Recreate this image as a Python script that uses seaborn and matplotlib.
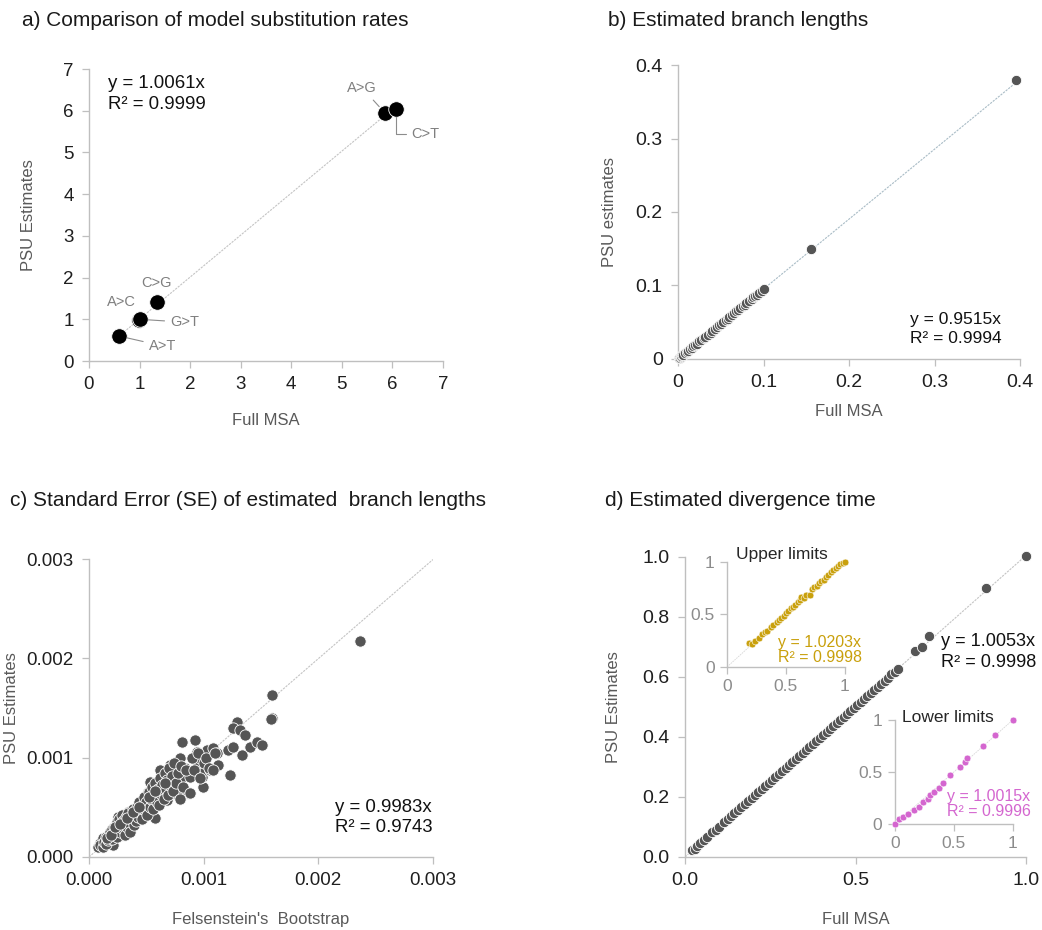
import numpy as np
import pandas as pd
import matplotlib
matplotlib.use("Agg")
import matplotlib.pyplot as plt
import seaborn as sns

# ---------------- data ----------------
# a) substitution rates
subs_labels = ["A>C", "A>G", "A>T", "C>G", "C>T", "G>T"]
subs_full = [0.98, 5.85, 0.59, 1.35, 6.07, 1.01]
subs_psu = [0.99, 5.95, 0.60, 1.42, 6.04, 1.00]

# b) branch lengths
bl_full = [0.001, 0.002, 0.003, 0.004, 0.005, 0.006, 0.008, 0.010, 0.012, 0.014,
           0.016, 0.018, 0.020, 0.022, 0.025, 0.027, 0.030, 0.032, 0.035, 0.038,
           0.040, 0.043, 0.046, 0.048, 0.050, 0.053, 0.056, 0.058, 0.060, 0.063,
           0.066, 0.068, 0.070, 0.073, 0.076, 0.078, 0.080, 0.083, 0.086, 0.088,
           0.090, 0.092, 0.095, 0.098, 0.100, 0.155, 0.395]
bl_psu = [0.001, 0.002, 0.003, 0.004, 0.005, 0.006, 0.008, 0.009, 0.011, 0.013,
          0.015, 0.017, 0.019, 0.021, 0.024, 0.026, 0.028, 0.030, 0.033, 0.036,
          0.038, 0.041, 0.044, 0.046, 0.048, 0.050, 0.053, 0.055, 0.057, 0.060,
          0.063, 0.065, 0.067, 0.069, 0.072, 0.074, 0.076, 0.079, 0.082, 0.084,
          0.086, 0.087, 0.090, 0.093, 0.095, 0.150, 0.379]

# c) standard errors (values in units of 1e-3)
se_boot_milli = [0.081, 0.096, 0.125, 0.183, 0.212, 0.256, 0.270, 0.285, 0.328, 0.343,
                 0.357, 0.430, 0.445, 0.503, 0.532, 0.517, 0.575, 0.561, 0.532, 0.619,
                 0.634, 0.677, 0.692, 0.706, 0.735, 0.793, 0.808, 0.793, 0.808, 0.837,
                 0.866, 0.881, 0.924, 0.939, 0.954, 0.968, 0.997, 0.983, 1.026, 1.012,
                 1.055, 1.084, 1.113, 1.128, 1.230, 1.215, 1.259, 1.288, 1.259, 1.317,
                 1.360, 1.331, 1.404, 1.462, 1.506, 1.593, 1.593, 1.584, 2.363,
                 0.10, 0.12, 0.13, 0.15, 0.15, 0.17, 0.18, 0.20, 0.20, 0.22,
                 0.22, 0.24, 0.24, 0.25, 0.26, 0.27, 0.28, 0.29, 0.30, 0.30,
                 0.31, 0.32, 0.33, 0.34, 0.35, 0.36, 0.37, 0.38, 0.39, 0.40,
                 0.41, 0.42, 0.43, 0.44, 0.45, 0.46, 0.47, 0.48, 0.49, 0.50,
                 0.51, 0.52, 0.53, 0.54, 0.55, 0.56, 0.57, 0.58, 0.59, 0.60,
                 0.61, 0.62, 0.63, 0.64, 0.65, 0.66, 0.67, 0.68, 0.69, 0.70,
                 0.71, 0.72, 0.73, 0.74, 0.76, 0.78, 0.79, 0.80, 0.82, 0.85,
                 0.88, 0.90, 0.92, 0.95, 0.97, 1.00, 1.02, 1.05, 1.08, 1.10,
                 0.16, 0.19, 0.23, 0.27, 0.33, 0.38, 0.44, 0.52, 0.58, 0.66]
se_psu_milli = [0.104, 0.138, 0.188, 0.222, 0.121, 0.406, 0.322, 0.222, 0.372, 0.456,
                0.289, 0.473, 0.524, 0.456, 0.540, 0.658, 0.389, 0.641, 0.758, 0.876,
                0.675, 0.574, 0.758, 0.926, 0.641, 0.624, 0.809, 0.993, 1.161, 0.893,
                0.641, 0.809, 1.178, 1.060, 0.926, 0.993, 0.708, 0.809, 1.077, 0.876,
                0.876, 1.094, 1.044, 0.926, 0.826, 1.077, 1.111, 1.363, 1.295, 1.279,
                1.228, 1.027, 1.111, 1.161, 1.128, 1.396, 1.631, 1.392, 2.178,
                0.12, 0.10, 0.15, 0.13, 0.20, 0.17, 0.25, 0.18, 0.28, 0.24,
                0.30, 0.20, 0.35, 0.28, 0.38, 0.25, 0.32, 0.42, 0.28, 0.36,
                0.22, 0.40, 0.30, 0.44, 0.34, 0.25, 0.38, 0.48, 0.32, 0.42,
                0.36, 0.50, 0.40, 0.55, 0.44, 0.38, 0.52, 0.60, 0.47, 0.55,
                0.42, 0.65, 0.50, 0.58, 0.70, 0.48, 0.62, 0.75, 0.55, 0.68,
                0.52, 0.80, 0.63, 0.72, 0.58, 0.85, 0.68, 0.78, 0.62, 0.90,
                0.72, 0.82, 0.66, 0.95, 0.75, 0.85, 0.58, 0.92, 0.70, 0.88,
                0.64, 1.00, 0.88, 1.05, 0.80, 0.95, 1.00, 0.90, 0.88, 1.05,
                0.19, 0.22, 0.30, 0.33, 0.39, 0.45, 0.50, 0.60, 0.66, 0.75]

# d) divergence times
dt_full = [0.020, 0.028, 0.035, 0.045, 0.055, 0.065, 0.080, 0.090, 0.100, 0.115,
           0.125, 0.135, 0.145, 0.155, 0.165, 0.175, 0.185, 0.195, 0.205, 0.215,
           0.225, 0.235, 0.245, 0.255, 0.265, 0.275, 0.285, 0.295, 0.305, 0.315,
           0.325, 0.335, 0.345, 0.355, 0.365, 0.375, 0.385, 0.395, 0.405, 0.415,
           0.425, 0.435, 0.445, 0.455, 0.465, 0.475, 0.485, 0.495, 0.505, 0.515,
           0.525, 0.535, 0.545, 0.555, 0.565, 0.575, 0.585, 0.595, 0.605, 0.615,
           0.625, 0.673, 0.694, 0.716, 0.882, 0.999]
dt_psu = [0.022, 0.028, 0.037, 0.046, 0.055, 0.066, 0.082, 0.090, 0.101, 0.117,
          0.125, 0.136, 0.147, 0.155, 0.166, 0.177, 0.186, 0.196, 0.207, 0.216,
          0.226, 0.237, 0.246, 0.256, 0.267, 0.276, 0.287, 0.296, 0.307, 0.316,
          0.327, 0.336, 0.347, 0.357, 0.366, 0.377, 0.386, 0.398, 0.407, 0.416,
          0.428, 0.437, 0.447, 0.458, 0.467, 0.477, 0.488, 0.497, 0.508, 0.518,
          0.527, 0.538, 0.548, 0.557, 0.568, 0.578, 0.588, 0.598, 0.609, 0.618,
          0.628, 0.687, 0.699, 0.738, 0.898, 1.002]

up_full = [0.19, 0.21, 0.24, 0.27, 0.30, 0.32, 0.34, 0.37, 0.39, 0.42, 0.44, 0.46,
           0.48, 0.50, 0.52, 0.54, 0.56, 0.58, 0.60, 0.62, 0.63, 0.65, 0.67, 0.70,
           0.72, 0.74, 0.76, 0.78, 0.80, 0.82, 0.84, 0.86, 0.88, 0.90, 0.92, 0.94,
           0.96, 0.98, 1.00]
up_psu = [0.23, 0.22, 0.25, 0.28, 0.31, 0.33, 0.34, 0.38, 0.40, 0.43, 0.45, 0.47,
          0.49, 0.51, 0.53, 0.56, 0.57, 0.59, 0.62, 0.64, 0.67, 0.66, 0.69, 0.69,
          0.74, 0.76, 0.77, 0.80, 0.82, 0.83, 0.86, 0.88, 0.90, 0.92, 0.94, 0.96,
          0.98, 0.99, 1.00]

low_full = [0.00, 0.03, 0.07, 0.11, 0.16, 0.20, 0.24, 0.28, 0.30, 0.33, 0.37, 0.41,
            0.47, 0.55, 0.59, 0.61, 0.75, 0.85, 1.00]
low_psu = [0.00, 0.045, 0.07, 0.10, 0.135, 0.165, 0.21, 0.245, 0.28, 0.31, 0.35, 0.39,
           0.47, 0.545, 0.60, 0.63, 0.75, 0.855, 1.00]

# trend-line slopes and R^2 as reported
slopes = {"a": 1.0061, "b": 0.9515, "c": 0.9983, "d": 1.0053, "up": 1.0203, "low": 1.0015}
r2 = {"a": "0.9999", "b": "0.9994", "c": "0.9743", "d": "0.9998", "up": "0.9998", "low": "0.9996"}

titles = ["a) Comparison of model substitution rates",
          "b) Estimated branch lengths",
          "c) Standard Error (SE) of estimated  branch lengths",
          "d) Estimated divergence time"]

# ---------------- style ----------------
sns.set_theme(style="ticks")
plt.rcParams['font.family'] = ['Liberation Sans', 'DejaVu Sans']

GREY_SPINE = "#bfbfbf"
PT_COLOR = "#555555"
GOLD = "#c9a00c"
MAGENTA = "#d466cf"

fig = plt.figure(figsize=(10.42, 9.3), dpi=100)
fig.patch.set_facecolor("white")


def style(ax, labelsize=13, labelcolor="#1f1f1f"):
    for s in ["top", "right"]:
        ax.spines[s].set_visible(False)
    for s in ["left", "bottom"]:
        ax.spines[s].set_color(GREY_SPINE)
        ax.spines[s].set_linewidth(1.0)
    ax.tick_params(length=5, width=0.9, color=GREY_SPINE, labelsize=labelsize,
                   labelcolor=labelcolor, pad=6)
    ax.set_facecolor("none")


def trend(ax, xmax, slope, color="#c4c4c4", xmin=0.0, lw=0.8):
    xs = np.array([xmin, xmax])
    sns.lineplot(x=xs, y=slope * xs, ax=ax, color=color, lw=lw,
                 linestyle=(0, (2, 1)), zorder=1)


def labels(ax, xl, yl, xoff, yoff):
    ax.set_xlabel(xl, fontsize=12, color="#595959")
    ax.set_ylabel(yl, fontsize=12, color="#595959")
    ax.xaxis.set_label_coords(0.5, xoff)
    ax.yaxis.set_label_coords(yoff, 0.5)
    ax.xaxis.label.set_va("center")
    ax.yaxis.label.set_va("center")


# ---------------- a ----------------
ax = fig.add_axes([0.0854, 0.6118, 0.3397, 0.3140])
trend(ax, max(subs_full), slopes["a"], xmin=min(subs_full))
sns.scatterplot(x=subs_full, y=subs_psu, ax=ax, s=125, color="black",
                edgecolor="white", linewidth=0.6, zorder=3, clip_on=False)
ax.set_xlim(0, 7)
ax.set_ylim(0, 7)
ax.set_xticks(range(0, 8))
ax.set_yticks(range(0, 8))
style(ax, labelsize=13.5)
labels(ax, "Full MSA", "PSU Estimates", -0.202, -0.172)
ax.text(0.054, 0.978, f"y = {slopes['a']:.4f}x\nR² = {r2['a']}", transform=ax.transAxes,
        ha="left", va="top", fontsize=13.4, color="#111111", linespacing=1.3)

lab_pos = {"A>C": (0.65, 1.41), "A>G": (5.4, 6.55), "A>T": (1.46, 0.36),
           "C>G": (1.34, 1.87), "C>T": (6.66, 5.44), "G>T": (1.9, 0.93)}
leader = {"A>G": "arc3", "A>T": "arc3", "G>T": "arc3",
          "C>T": "angle,angleA=180,angleB=90,rad=0"}
for lab, xv, yv in zip(subs_labels, subs_full, subs_psu):
    kw = {}
    if lab in leader:
        kw["arrowprops"] = dict(arrowstyle="-", color="#8c8c8c", lw=0.8,
                                connectionstyle=leader[lab], shrinkA=2, shrinkB=6)
    ax.annotate(lab, xy=(xv, yv), xytext=lab_pos[lab], ha="center", va="center",
                fontsize=10.5, color="#7f7f7f", zorder=4, **kw)

# ---------------- b ----------------
ax = fig.add_axes([0.6507, 0.6140, 0.3282, 0.3161])
trend(ax, max(bl_full), slopes["b"], color="#a9bcc6")
sns.scatterplot(x=bl_full, y=bl_psu, ax=ax, s=55, color=PT_COLOR,
                edgecolor="white", linewidth=0.6, zorder=3, clip_on=False)
ax.set_xlim(0, 0.4)
ax.set_ylim(0, 0.4)
ax.set_xticks([0, 0.1, 0.2, 0.3, 0.4])
ax.set_yticks([0, 0.1, 0.2, 0.3, 0.4])
ax.set_xticklabels(["0", "0.1", "0.2", "0.3", "0.4"])
ax.set_yticklabels(["0", "0.1", "0.2", "0.3", "0.4"])
style(ax, labelsize=14)
labels(ax, "Full MSA", "PSU estimates", -0.180, -0.199)
ax.text(0.678, 0.160, f"y = {slopes['b']:.4f}x\nR² = {r2['b']}", transform=ax.transAxes,
        ha="left", va="top", fontsize=12.5, color="#111111", linespacing=1.35)

# ---------------- c ----------------
ax = fig.add_axes([0.0854, 0.0785, 0.3301, 0.3204])
se_boot = np.array(se_boot_milli) * 1e-3
se_psu = np.array(se_psu_milli) * 1e-3
trend(ax, 0.003, slopes["c"])
sns.scatterplot(x=se_boot, y=se_psu, ax=ax, s=66, color=PT_COLOR,
                edgecolor="white", linewidth=0.6, zorder=3, clip_on=False)
ax.set_xlim(0, 0.003)
ax.set_ylim(0, 0.003)
ticks_c = [0, 0.001, 0.002, 0.003]
ax.set_xticks(ticks_c)
ax.set_yticks(ticks_c)
ax.set_xticklabels([f"{t:.3f}" for t in ticks_c])
ax.set_yticklabels([f"{t:.3f}" for t in ticks_c])
style(ax, labelsize=13.5)
labels(ax, "Felsenstein's  Bootstrap", "PSU Estimates", -0.211, -0.224)
ax.text(0.715, 0.196, f"y = {slopes['c']:.4f}x\nR² = {r2['c']}", transform=ax.transAxes,
        ha="left", va="top", fontsize=13.4, color="#111111", linespacing=1.3)

# ---------------- d ----------------
ax = fig.add_axes([0.6574, 0.0785, 0.3273, 0.3226])
trend(ax, 1.0, slopes["d"])
sns.scatterplot(x=dt_full, y=dt_psu, ax=ax, s=55, color=PT_COLOR,
                edgecolor="white", linewidth=0.6, zorder=3, clip_on=False)
ax.set_xlim(0, 1.0)
ax.set_ylim(0, 1.0)
ax.set_xticks([0, 0.5, 1.0])
ax.set_yticks([0, 0.2, 0.4, 0.6, 0.8, 1.0])
ax.set_xticklabels(["0.0", "0.5", "1.0"])
ax.set_yticklabels(["0.0", "0.2", "0.4", "0.6", "0.8", "1.0"])
style(ax, labelsize=14)
labels(ax, "Full MSA", "PSU Estimates", -0.21, -0.211)
ax.text(0.750, 0.745, f"y = {slopes['d']:.4f}x\nR² = {r2['d']}", transform=ax.transAxes,
        ha="left", va="top", fontsize=13.1, color="#111111", linespacing=1.25)

# inset: upper limits
ai = fig.add_axes([0.6977, 0.2828, 0.1132, 0.1129])
trend(ai, 1.0, slopes["up"], color="#d8d8d8", lw=0.6)
sns.scatterplot(x=up_full, y=up_psu, ax=ai, s=24, color=GOLD,
                edgecolor="white", linewidth=0.4, zorder=3, clip_on=False)
ai.set_xlim(0, 1)
ai.set_ylim(0, 1)
ai.set_xticks([0, 0.5, 1])
ai.set_yticks([0, 0.5, 1])
ai.set_xticklabels(["0", "0.5", "1"])
ai.set_yticklabels(["0", "0.5", "1"])
style(ai, labelsize=12.5, labelcolor="#8c8c8c")
ai.tick_params(pad=4)
ai.text(0.08, 1.067, "Upper limits", transform=ai.transAxes, ha="left", va="center",
        fontsize=12.5, color="#262626")
ai.text(0.432, 0.30, f"y = {slopes['up']:.4f}x\nR² = {r2['up']}", transform=ai.transAxes,
        ha="left", va="top", fontsize=11.5, color=GOLD, linespacing=1.0)

# inset: lower limits
ai = fig.add_axes([0.8589, 0.1140, 0.1132, 0.1118])
trend(ai, 1.0, slopes["low"], color="#d8d8d8", lw=0.6)
sns.scatterplot(x=low_full, y=low_psu, ax=ai, s=24, color=MAGENTA,
                edgecolor="white", linewidth=0.4, zorder=3, clip_on=False)
ai.set_xlim(0, 1)
ai.set_ylim(0, 1)
ai.set_xticks([0, 0.5, 1])
ai.set_yticks([0, 0.5, 1])
ai.set_xticklabels(["0", "0.5", "1"])
ai.set_yticklabels(["0", "0.5", "1"])
style(ai, labelsize=12.5, labelcolor="#8c8c8c")
ai.tick_params(pad=4)
ai.text(0.06, 1.02, "Lower limits", transform=ai.transAxes, ha="left", va="center",
        fontsize=12.5, color="#262626")
ai.text(0.44, 0.34, f"y = {slopes['low']:.4f}x\nR² = {r2['low']}", transform=ai.transAxes,
        ha="left", va="top", fontsize=11.5, color=MAGENTA, linespacing=1.0)

# ---------------- titles ----------------
fig.text(0.021, 1 - 20 / 930, titles[0], fontsize=15, ha="left", va="center", color="#1a1a1a")
fig.text(0.5835, 1 - 20 / 930, titles[1], fontsize=15, ha="left", va="center", color="#1a1a1a")
fig.text(0.0096, 1 - 500 / 930, titles[2], fontsize=15, ha="left", va="center", color="#1a1a1a")
fig.text(0.5806, 1 - 500 / 930, titles[3], fontsize=15, ha="left", va="center", color="#1a1a1a")

fig.savefig("out.png", dpi=100, facecolor="white")
